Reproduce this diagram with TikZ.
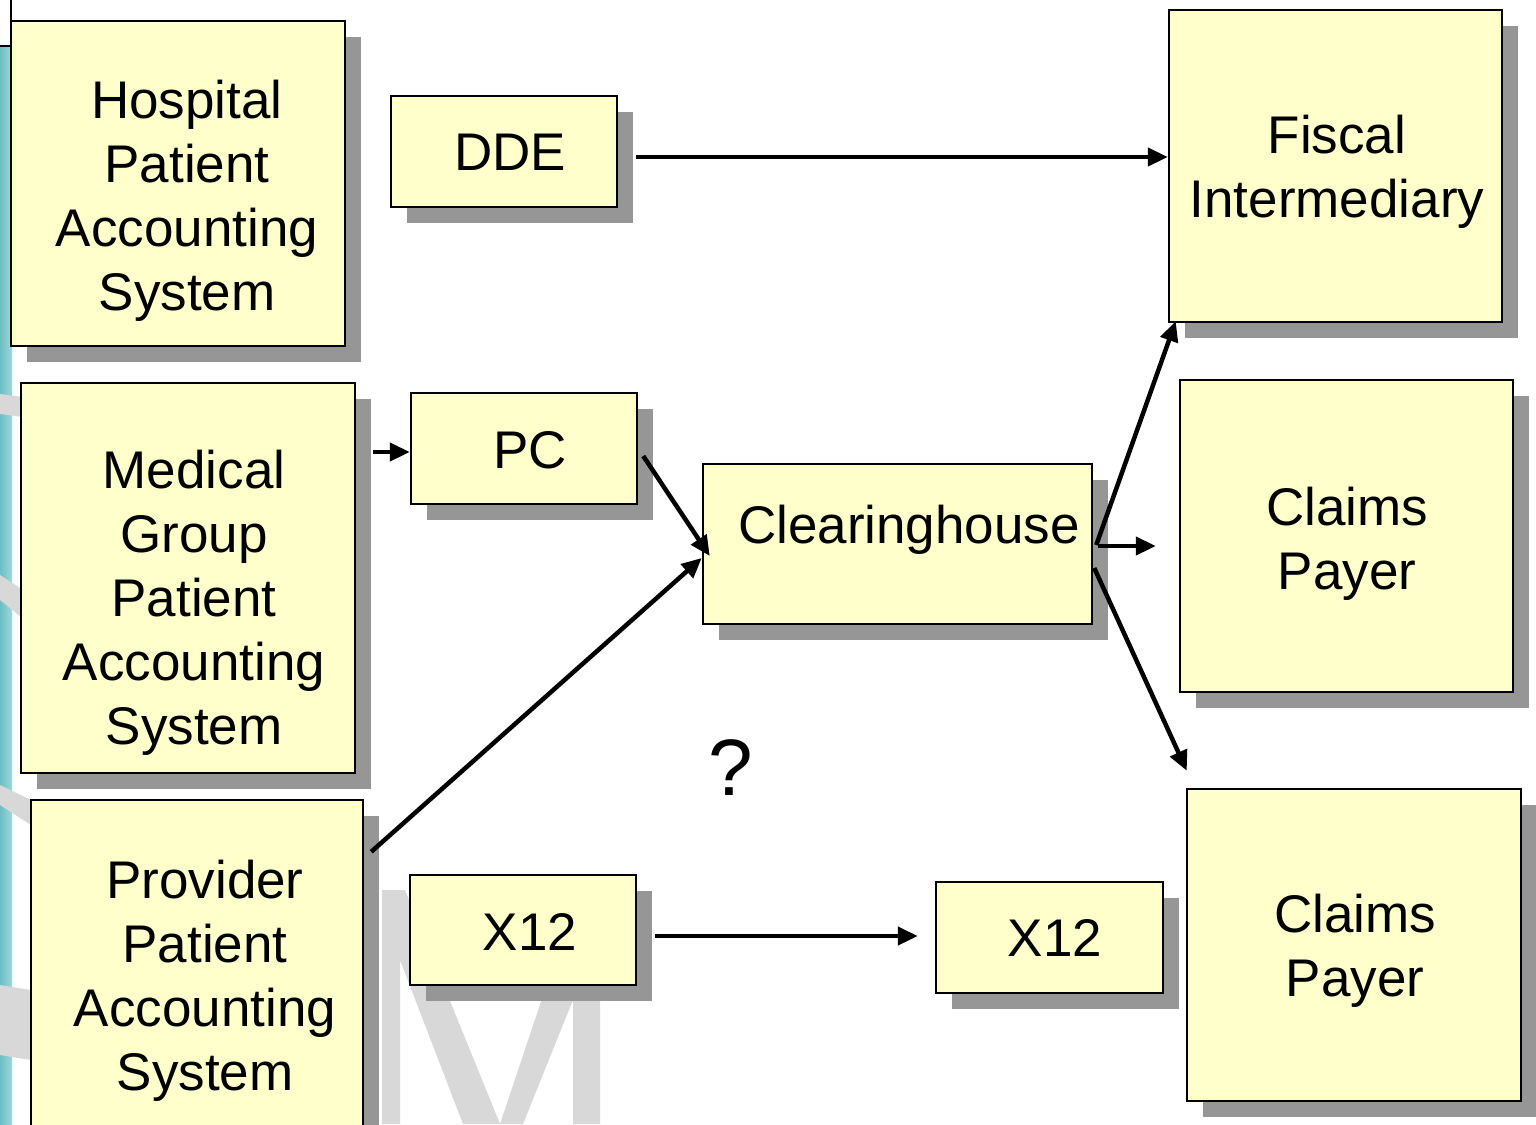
\documentclass[tikz,border=0pt]{standalone}
\usepackage{fontspec}
\setmainfont{Liberation Sans}
\usetikzlibrary{arrows.meta,shadows,calc}
\definecolor{boxfill}{HTML}{FFFFCC}
\definecolor{shadowgray}{HTML}{969696}
\definecolor{wm}{HTML}{D8D8D8}
\definecolor{tealA}{HTML}{6CBFC4}
\definecolor{tealB}{HTML}{9ED8DA}
\begin{document}
\begin{tikzpicture}[x=1pt,y=-1pt,
  box/.style={draw=black, line width=2.5pt, fill=boxfill, inner sep=0pt,
    general shadow={fill=shadowgray, shadow xshift=16pt, shadow yshift=-16pt}},
  lbl/.style={font=\fontsize{53}{64}\selectfont, align=center, inner sep=0pt},
  arr/.style={line width=4.5pt, -{Triangle[length=20pt,width=18pt]}}]
\useasboundingbox (0,0) rectangle (1536,1124);
\fill[white] (0,0) rectangle (1536,1124);
% background decoration
\shade[left color=tealA, right color=tealB] (0,48) rectangle (12,1124);
\fill[wm] (0,394) -- (31,398) -- (31,418) -- (0,414) -- cycle;
\fill[wm] (0,575) -- (31,595) -- (31,625) -- (0,600) -- cycle;
\fill[wm] (0,785) -- (31,800) -- (31,825) -- (0,805) -- cycle;
\fill[wm] (0,985) -- (31,990) -- (31,1060) -- (0,1055) -- cycle;
\fill[wm] (382,890) -- (405,890) -- (500,1124) -- (463,1124) -- (400,960) -- (400,1124) -- (382,1124) -- cycle;
\fill[wm] (500,1124) -- (575,900) -- (600,900) -- (600,1124) -- (573,1124) -- (573,1000) -- (523,1124) -- cycle;
\draw[line width=2.5pt] (11,0) -- (11,46) -- (0,46);
% boxes
\node[box, minimum width=334pt, minimum height=325pt] (hosp) at (178,183.5) {};
\node[box, minimum width=226pt, minimum height=111pt] (dde) at (504,151.5) {};
\node[box, minimum width=333pt, minimum height=312pt] (fi) at (1335.5,166) {};
\node[box, minimum width=334pt, minimum height=390pt] (med) at (188,578) {};
\node[box, minimum width=226pt, minimum height=111pt] (pc) at (524,448.5) {};
\node[box, minimum width=389pt, minimum height=160pt] (ch) at (897.5,544) {};
\node[box, minimum width=333pt, minimum height=312pt] (cpa) at (1346.5,536) {};
\node[box, minimum width=332pt, minimum height=340pt] (prov) at (197,970) {};
\node[box, minimum width=226pt, minimum height=110pt] (xa) at (523,930) {};
\node[box, minimum width=227pt, minimum height=111pt] (xb) at (1049.5,937.5) {};
\node[box, minimum width=334pt, minimum height=312pt] (cpb) at (1354,945) {};
% labels
\node[lbl] (hospT) at (187,201) {Hospital\\Patient\\Accounting\\System};
\node[lbl] (ddeT) at (510,152) {DDE};
\node[lbl] (fiT) at (1337,172) {Fiscal\\Intermediary};
\node[lbl] (medT) at (194,603) {Medical\\Group\\Patient\\Accounting\\System};
\node[lbl] (pcT) at (530,450) {PC};
\node[lbl] (chT) at (909,530) {Clearinghouse};
\node[lbl] (cpaT) at (1347,544) {Claims\\Payer};
\node[lbl] (provT) at (205,981) {Provider\\Patient\\Accounting\\System};
\node[lbl] (xaT) at (530,932) {X12};
\node[lbl] (xbT) at (1055,938) {X12};
\node[lbl] (cpbT) at (1355,951) {Claims\\Payer};
\node[lbl, font=\fontsize{80}{90}\selectfont] (q) at (731,768) {?};
% connectors
\draw[arr] ($(dde.east)+(18,5.5)$) -- ($(fi.west)+(0,-9)$);
\draw[arr] ($(med.east |- pc.west)+(17,3.5)$) -- ($(pc.west)+(0,3.5)$);
\draw[arr] ($(pc.east)+(5,7.5)$) -- ($(ch.west)+(8,12)$);
\draw[arr] ($(prov.north east)+(7,53)$) -- ($(ch.west)+(0,14)$);
\draw[arr] ($(ch.east)+(3,1)$) -- ($(fi.south west)+(8,-2)$);
\draw[arr] ($(ch.east)+(5,2)$) -- ($(cpa.west)+(-23,10)$);
\draw[arr] ($(ch.east)+(1,24)$) -- ($(cpb.north west)+(1,-17)$);
\draw[arr] ($(xa.east)+(18,6)$) -- ($(xb.west)+(-17,-1.5)$);
\end{tikzpicture}
\end{document}
